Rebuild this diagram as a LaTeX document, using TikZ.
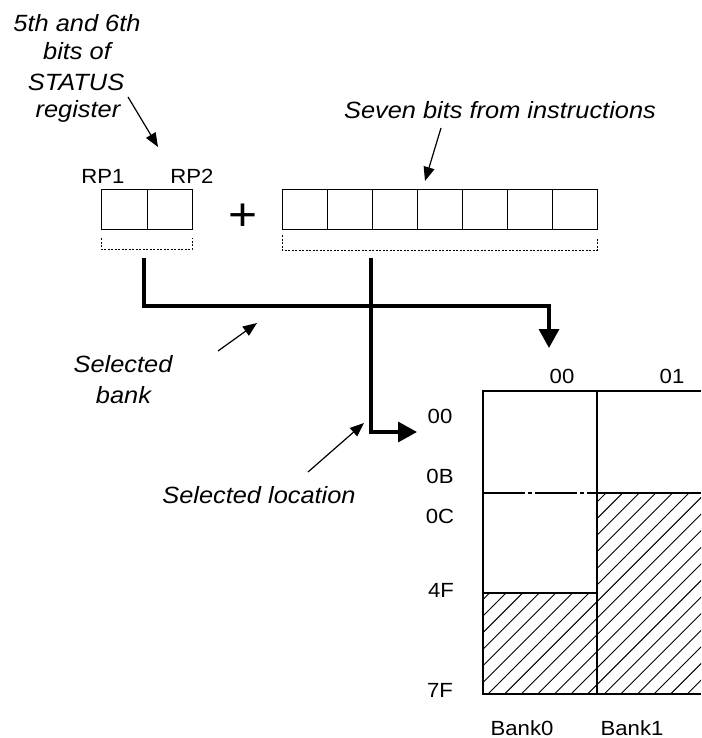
\documentclass[tikz,border=0pt]{standalone}
\usepackage{fontspec}
\setmainfont{Liberation Sans}[FakeStretch=1.08]
\usetikzlibrary{arrows.meta}
\begin{document}
\begin{tikzpicture}[x=1pt,y=-1pt,
  lbl/.style={inner sep=0pt,anchor=base,font=\fontsize{20.5}{24}\selectfont},
  note/.style={inner sep=0pt,anchor=base,font=\fontsize{23.5}{28}\selectfont\itshape},
  cell/.style={draw,line width=1.3pt,minimum height=40pt,inner sep=0pt,anchor=north west},
  bracket/.style={line width=1pt,dash pattern=on 2pt off 1.5pt},
  bus/.style={line width=3.3pt,-{Triangle[length=19pt,width=20pt]}},
  pointer/.style={line width=1.2pt,-{Triangle[length=14pt,width=11pt]}},
  gridline/.style={line width=1.3pt},
  hatchline/.style={line width=0.9pt}
]
\useasboundingbox (0,0) rectangle (701,738);

% status note
\node[note] (st1) at (77,32) {5th and 6th};
\node[note] (st2) at (77,60) {bits of};
\node[note] (st3) at (76,91) {STATUS};
\node[note] (st4) at (78,118) {register};
\coordinate (stA) at (128,97);
\coordinate (stB) at (158,147);
\draw[pointer] (stA) -- (stB);

% RP register
\node[cell,minimum width=45.5pt] (rp1) at (101,189) {};
\node[cell,minimum width=45.5pt] (rp2) at (146.5,189) {};
\node[lbl] (rp1l) at (103,183) {RP1};
\node[lbl] (rp2l) at (192,183) {RP2};
\draw[bracket] (101,238) -- (101,249) -- (192,249) -- (192,238);

% plus
\node[inner sep=0pt,font=\fontsize{46}{46}\selectfont] (plus) at (243.5,217) {+};

% seven bits
\foreach \i in {1,...,7}{
  \node[cell,minimum width=45pt] (b\i) at ({282+45*(\i-1)},189) {};
}
\draw[bracket] (282,235) -- (282,250) -- (597,250) -- (597,238);
\node[note] (seven) at (500,119) {Seven bits from instructions};
\coordinate (svA) at (441,128);
\coordinate (svB) at (425,181);
\draw[pointer] (svA) -- (svB);

% buses
\coordinate (rpout) at (144,258);
\coordinate (vout) at (371,258);
\coordinate (corner) at (549,306);
\coordinate (banktip) at (549,348);
\coordinate (loctip) at (417,432);
\draw[bus] (rpout) |- (corner) -- (banktip);
\draw[bus] (vout) |- (loctip);

% annotations
\node[note] (sb1) at (123,372) {Selected};
\node[note] (sb2) at (123.5,403) {bank};
\coordinate (sbA) at (218,351);
\coordinate (sbB) at (257,323);
\draw[pointer] (sbA) -- (sbB);
\node[note] (sl) at (259,503) {Selected location};
\coordinate (slA) at (308,472);
\coordinate (slB) at (364,423);
\draw[pointer] (slA) -- (slB);

% memory grid hatching
\begin{scope}
  \clip (597,493) rectangle (701,694);
  \foreach \k in {-14,...,14}{
    \draw[hatchline] ({488+16.6*\k},694) -- ++(220,-220);
  }
\end{scope}
\begin{scope}
  \clip (483,593) rectangle (597,694);
  \foreach \k in {-8,...,8}{
    \draw[hatchline] ({488+16.6*\k},694) -- ++(120,-120);
  }
\end{scope}
\draw[gridline] (701,391) -- (483,391) -- (483,694) -- (701,694);
\draw[gridline] (597,391) -- (597,694);
\draw[gridline] (597,493) -- (701,493);
\draw[gridline] (483,593) -- (597,593);
\draw[gridline,dash pattern=on 42pt off 3pt on 4pt off 3pt] (483,493) -- (597,493);

% grid labels
\node[lbl] (c00) at (562,383) {00};
\node[lbl] (c01) at (672,383) {01};
\node[lbl] (r00) at (440,423) {00};
\node[lbl] (r0B) at (440,483) {0B};
\node[lbl] (r0C) at (440,523) {0C};
\node[lbl] (r4F) at (441,597) {4F};
\node[lbl] (r7F) at (440,697) {7F};
\node[lbl] (bk0) at (522,735) {Bank0};
\node[lbl] (bk1) at (632,735) {Bank1};
\end{tikzpicture}
\end{document}
